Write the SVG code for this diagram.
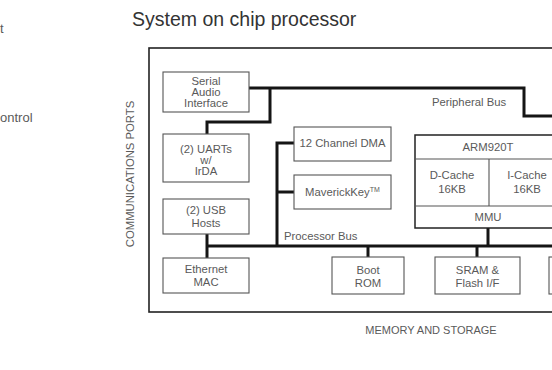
<svg xmlns="http://www.w3.org/2000/svg" width="552" height="370" viewBox="0 0 552 370">
<style>
  text { font-family: "Liberation Sans", Arial, sans-serif; fill: #5a5a5a; }
  .lbl { font-size: 11.3px; text-anchor: middle; }
  .cap { font-size: 11px; }
  .box { fill: #fff; stroke: #555; stroke-width: 1.1; }
  .bus { fill: none; stroke: #151515; stroke-width: 3; stroke-linejoin: miter; stroke-linecap: butt; }
  .outer { fill: none; stroke: #222; stroke-width: 1.6; }
</style>
<rect width="552" height="370" fill="#fff"/>

<text x="0" y="33" style="font-size:13px">t</text>
<text x="0" y="122" style="font-size:13px">ontrol</text>

<text x="132" y="26" style="font-size:19.5px;fill:#333">System on chip processor</text>

<rect class="outer" x="149" y="48" width="420" height="264"/>

<text class="cap" transform="translate(134,174) rotate(-90)" text-anchor="middle" style="font-size:11.3px">COMMUNICATIONS PORTS</text>
<text class="cap" x="431" y="334" text-anchor="middle">MEMORY AND STORAGE</text>

<g id="connectors">
  <polyline class="bus" points="249,88 524,88 524,116 560,116"/>
  <polyline class="bus" points="270,88 270,122 207,122 207,134"/>
  <polyline class="bus" points="207,234 207,258"/>
  <polyline class="bus" points="207,246 560,246"/>
  <polyline class="bus" points="277,246 277,143 294,143"/>
  <polyline class="bus" points="277,192 294,192"/>
  <polyline class="bus" points="368,246 368,257"/>
  <polyline class="bus" points="477,246 477,257"/>
  <polyline class="bus" points="488,228 488,246"/>
</g>
<text class="cap" x="432" y="106" style="font-size:11.3px">Peripheral Bus</text>
<text class="cap" x="284" y="240" style="font-size:11.3px">Processor Bus</text>

<g id="serial-audio">
  <rect class="box" x="163" y="72" width="86" height="40"/>
  <text class="lbl" x="206" y="85">Serial</text>
  <text class="lbl" x="206" y="96">Audio</text>
  <text class="lbl" x="206" y="107">Interface</text>
</g>
<g id="uarts">
  <rect class="box" x="163" y="134" width="86" height="48"/>
  <text class="lbl" x="206" y="153">(2) UARTs</text>
  <text class="lbl" x="206" y="164">w/</text>
  <text class="lbl" x="206" y="175">IrDA</text>
</g>
<g id="usb">
  <rect class="box" x="163" y="199" width="86" height="35"/>
  <text class="lbl" x="206" y="214">(2) USB</text>
  <text class="lbl" x="206" y="227">Hosts</text>
</g>
<g id="ethernet">
  <rect class="box" x="163" y="258" width="86" height="35"/>
  <text class="lbl" x="206" y="273">Ethernet</text>
  <text class="lbl" x="206" y="286">MAC</text>
</g>
<g id="dma">
  <rect class="box" x="294" y="127" width="97" height="34"/>
  <text class="lbl" x="342.5" y="147">12 Channel DMA</text>
</g>
<g id="maverickkey">
  <rect class="box" x="294" y="175" width="97" height="34"/>
  <text class="lbl" x="342.5" y="196">MaverickKey<tspan style="font-size:7px" dy="-4">TM</tspan></text>
</g>
<g id="arm920t">
  <rect class="box" x="415" y="135" width="148" height="93" style="stroke:#222;stroke-width:1.5"/>
  <line x1="415" y1="159" x2="563" y2="159" stroke="#555" stroke-width="1.1"/>
  <line x1="415" y1="206" x2="563" y2="206" stroke="#555" stroke-width="1.1"/>
  <line x1="489" y1="159" x2="489" y2="206" stroke="#555" stroke-width="1.1"/>
  <text class="lbl" x="488" y="151">ARM920T</text>
  <text class="lbl" x="452" y="179">D-Cache</text>
  <text class="lbl" x="452" y="193">16KB</text>
  <text class="lbl" x="527" y="179">I-Cache</text>
  <text class="lbl" x="527" y="193">16KB</text>
  <text class="lbl" x="488" y="221">MMU</text>
</g>
<g id="boot-rom">
  <rect class="box" x="332" y="257" width="72" height="37"/>
  <text class="lbl" x="368" y="274">Boot</text>
  <text class="lbl" x="368" y="287">ROM</text>
</g>
<g id="sram">
  <rect class="box" x="435" y="257" width="85" height="37"/>
  <text class="lbl" x="477.5" y="274">SRAM &amp;</text>
  <text class="lbl" x="477.5" y="287">Flash I/F</text>
</g>
<g id="memory-right">
  <rect class="box" x="549" y="257" width="40" height="37"/>
</g>
</svg>
